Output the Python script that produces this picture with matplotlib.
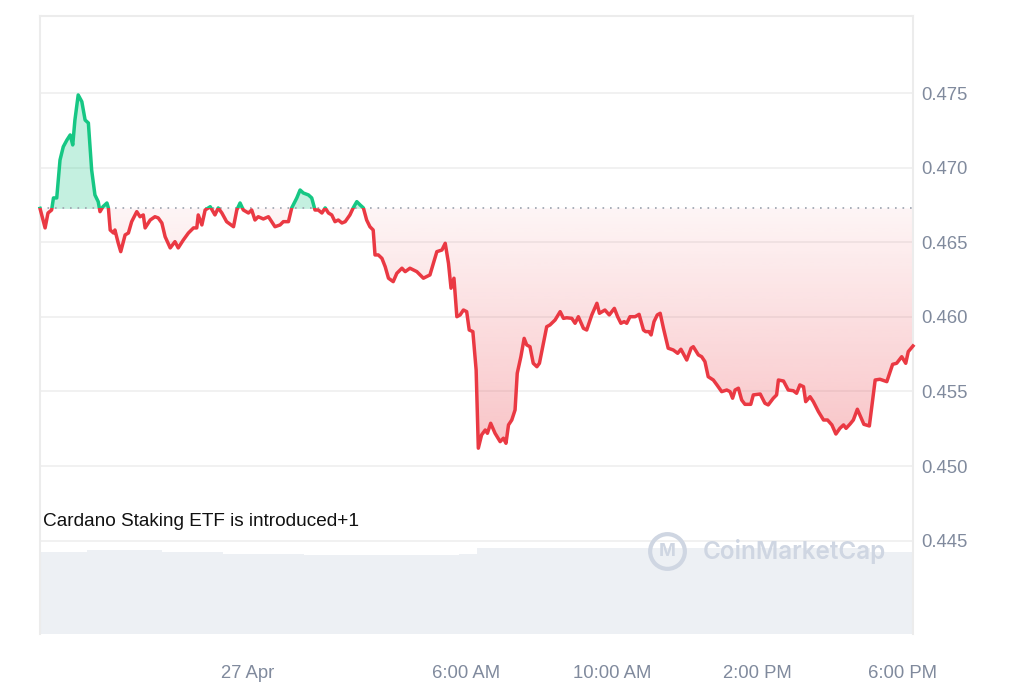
"""
ADA price chart (last 24h) in CoinMarketCap style
"""
import numpy as np
import matplotlib
matplotlib.use("Agg")
import matplotlib.pyplot as plt
from matplotlib.colors import to_rgb
from matplotlib.patches import PathPatch, Rectangle

# hours relative to 27 Apr 00:00
hours = [-5.72, -5.58, -5.50, -5.40, -5.35, -5.26, -5.17, -5.08, -4.98, -4.89,
         -4.82, -4.76, -4.67, -4.57, -4.48, -4.39, -4.30, -4.21, -4.12, -4.07,
         -3.99, -3.88, -3.84, -3.79, -3.70, -3.66, -3.57, -3.50, -3.38, -3.29,
         -3.20, -3.06, -2.97, -2.88, -2.83, -2.69, -2.56, -2.47, -2.37, -2.28,
         -2.14, -2.01, -1.92, -1.78, -1.64, -1.50, -1.41, -1.37, -1.27, -1.18,
         -1.04, -0.91, -0.82, -0.72, -0.59, -0.54, -0.40, -0.31, -0.22, -0.13,
         0.01, 0.10, 0.19, 0.28, 0.42, 0.56, 0.65, 0.74, 0.88, 0.97,
         1.11, 1.20, 1.34, 1.43, 1.52, 1.66, 1.75, 1.84, 1.93, 2.03,
         2.12, 2.21, 2.30, 2.39, 2.48, 2.58, 2.67, 2.80, 2.89, 2.99,
         3.08, 3.17, 3.26, 3.35, 3.44, 3.49, 3.58, 3.68, 3.77, 3.86,
         3.99, 4.09, 4.23, 4.32, 4.45, 4.64, 4.82, 5.00, 5.19, 5.33,
         5.42, 5.51, 5.58, 5.66, 5.74, 5.83, 5.92, 6.01, 6.08, 6.18,
         6.27, 6.33, 6.42, 6.52, 6.58, 6.67, 6.79, 6.93, 7.02, 7.09,
         7.16, 7.25, 7.34, 7.40, 7.50, 7.59, 7.66, 7.75, 7.84, 7.94,
         8.01, 8.12, 8.21, 8.30, 8.44, 8.58, 8.67, 8.76, 8.90, 8.99,
         9.08, 9.22, 9.31, 9.45, 9.59, 9.66, 9.81, 9.93, 10.07, 10.16,
         10.25, 10.34, 10.41, 10.50, 10.64, 10.75, 10.87, 10.93, 11.02, 11.08,
         11.16, 11.25, 11.33, 11.42, 11.55, 11.69, 11.81, 11.90, 12.06, 12.18,
         12.24, 12.38, 12.47, 12.56, 12.65, 12.79, 12.89, 13.02, 13.16, 13.25,
         13.32, 13.39, 13.48, 13.57, 13.66, 13.82, 13.89, 14.08, 14.21, 14.30,
         14.44, 14.53, 14.58, 14.72, 14.85, 14.99, 15.08, 15.17, 15.27, 15.33,
         15.45, 15.54, 15.68, 15.82, 15.93, 16.05, 16.16, 16.27, 16.37, 16.44,
         16.55, 16.64, 16.75, 16.84, 16.93, 17.08, 17.24, 17.37, 17.56, 17.72,
         17.83, 17.97, 18.08, 18.15, 18.25, 18.28]

prices = [0.46727, 0.46596, 0.46696, 0.46716, 0.46797, 0.46797, 0.47051, 0.47140, 0.47185, 0.47219,
          0.47152, 0.47319, 0.47487, 0.47442, 0.47319, 0.47299, 0.46984, 0.46817, 0.46772, 0.46705,
          0.46738, 0.46763, 0.46730, 0.46582, 0.46562, 0.46582, 0.46495, 0.46437, 0.46549, 0.46562,
          0.46638, 0.46705, 0.46671, 0.46683, 0.46596, 0.46649, 0.46671, 0.46663, 0.46629, 0.46537,
          0.46462, 0.46504, 0.46462, 0.46515, 0.46562, 0.46596, 0.46596, 0.46683, 0.46616, 0.46716,
          0.46738, 0.46683, 0.46730, 0.46696, 0.46638, 0.46629, 0.46604, 0.46716, 0.46763, 0.46716,
          0.46696, 0.46716, 0.46649, 0.46671, 0.46656, 0.46671, 0.46638, 0.46604, 0.46616, 0.46638,
          0.46638, 0.46730, 0.46797, 0.46850, 0.46830, 0.46817, 0.46797, 0.46716, 0.46716, 0.46696,
          0.46730, 0.46696, 0.46683, 0.46638, 0.46649, 0.46629, 0.46638, 0.46683, 0.46730, 0.46772,
          0.46750, 0.46730, 0.46649, 0.46604, 0.46582, 0.46415, 0.46415, 0.46392, 0.46336, 0.46259,
          0.46236, 0.46292, 0.46326, 0.46303, 0.46326, 0.46303, 0.46259, 0.46281, 0.46437, 0.46448,
          0.46493, 0.46359, 0.46192, 0.46259, 0.46001, 0.46013, 0.46046, 0.46035, 0.45912, 0.45901,
          0.45644, 0.45120, 0.45209, 0.45242, 0.45220, 0.45287, 0.45220, 0.45164, 0.45187, 0.45153,
          0.45276, 0.45309, 0.45376, 0.45622, 0.45733, 0.45856, 0.45812, 0.45800, 0.45689, 0.45666,
          0.45689, 0.45823, 0.45934, 0.45946, 0.45979, 0.46035, 0.45990, 0.45994, 0.45990, 0.45957,
          0.46001, 0.45923, 0.45912, 0.46013, 0.46091, 0.46024, 0.46046, 0.46013, 0.46057, 0.46001,
          0.45957, 0.45968, 0.45957, 0.46001, 0.46001, 0.46017, 0.45912, 0.45901, 0.45901, 0.45879,
          0.45968, 0.46013, 0.46024, 0.45923, 0.45790, 0.45778, 0.45756, 0.45783, 0.45711, 0.45790,
          0.45800, 0.45745, 0.45733, 0.45700, 0.45599, 0.45577, 0.45544, 0.45499, 0.45510, 0.45499,
          0.45455, 0.45510, 0.45522, 0.45443, 0.45414, 0.45414, 0.45477, 0.45483, 0.45421, 0.45410,
          0.45455, 0.45477, 0.45577, 0.45570, 0.45510, 0.45505, 0.45488, 0.45544, 0.45532, 0.45432,
          0.45465, 0.45432, 0.45365, 0.45309, 0.45309, 0.45276, 0.45215, 0.45253, 0.45276, 0.45253,
          0.45282, 0.45309, 0.45381, 0.45331, 0.45280, 0.45269, 0.45577, 0.45582, 0.45566, 0.45682,
          0.45689, 0.45733, 0.45689, 0.45767, 0.45796, 0.45805]

ref_price = 0.46727  # opening price (dotted line)

# volume blocks: start hour, end hour, volume (M)
vol_start = [-5.72, -4.43, -2.37, -0.70, 1.54, 5.81, 6.30, 17.10]
vol_end = [-4.43, -2.37, -0.70, 1.54, 5.81, 6.30, 17.10, 18.28]
vol_values = [82.3, 84.0, 82.3, 80.3, 78.7, 80.3, 85.7, 82.0]

tick_hours = [0, 6, 10, 14, 18]
tick_labels = ["27 Apr", "6:00 AM", "10:00 AM", "2:00 PM", "6:00 PM"]
ytick_vals = [0.445, 0.450, 0.455, 0.460, 0.465, 0.470, 0.475]

GREEN = "#16c784"
RED = "#ea3943"
GRAY_TXT = "#808a9d"
WM = "#cfd6e2"

h = np.array(hours)
p = np.array(prices)
xmin, xmax = h[0], h[-1]

fig = plt.figure(figsize=(10.24, 6.83), dpi=100)
rect = [40 / 1024, 1 - 634 / 683, 873 / 1024, 618 / 683]

# volume bars in the background
vax = fig.add_axes(rect, zorder=0)
vs = np.array(vol_start)
ve = np.array(vol_end)
vax.bar(vs, vol_values, width=ve - vs, align="edge", color="#edf0f4", edgecolor="none")
vax.set_xlim(xmin, xmax)
vax.set_ylim(0, max(vol_values) * 618 / 85.7)
vax.axis("off")

ax = fig.add_axes(rect, zorder=1)
ax.patch.set_visible(False)

# grid
for v in ytick_vals:
    ax.axhline(v, color="#efefef", lw=1.2, zorder=0)

# green fill above reference
ax.fill_between(h, ref_price, np.maximum(p, ref_price), color=GREEN, alpha=0.25,
                linewidth=0, zorder=2)

# red gradient fill below reference
poly = ax.fill_between(h, ref_price, np.minimum(p, ref_price), facecolor="none",
                       edgecolor="none")
clip = PathPatch(poly.get_paths()[0], transform=ax.transData, facecolor="none",
                 edgecolor="none")
ax.add_patch(clip)
grad = np.zeros((256, 1, 4))
grad[..., :3] = to_rgb(RED)
grad[..., 3] = np.linspace(0.30, 0.05, 256)[:, None]
im = ax.imshow(grad, extent=[xmin, xmax, p.min(), ref_price], origin="lower",
               aspect="auto", zorder=2, interpolation="bilinear")
im.set_clip_path(clip)

# reference line
ax.axhline(ref_price, color="#9aa1ad", lw=1.2, ls=(0, (1, 3.5)), zorder=3)

# price line, coloured by side of the reference
line_g, = ax.plot(h, p, color=GREEN, lw=2.5, zorder=4, solid_joinstyle="round")
line_r, = ax.plot(h, p, color=RED, lw=2.5, zorder=4, solid_joinstyle="round")
rg = Rectangle((xmin - 1, ref_price), xmax - xmin + 2, 1.0, transform=ax.transData)
rr = Rectangle((xmin - 1, ref_price - 1.0), xmax - xmin + 2, 1.0, transform=ax.transData)
line_g.set_clip_path(rg)
line_r.set_clip_path(rr)

ax.set_xlim(xmin, xmax)
ax.set_ylim(0.43875, 0.48016)

# axes styling
for s in ["top", "left", "right"]:
    ax.spines[s].set_color("#ececec")
    ax.spines[s].set_linewidth(1.5)
ax.spines["bottom"].set_visible(False)

ax.yaxis.tick_right()
ax.set_yticks(ytick_vals)
ax.set_yticklabels([f"{v:.3f}" for v in ytick_vals])
ax.set_xticks(tick_hours)
ax.set_xticklabels(tick_labels)
ax.tick_params(axis="y", length=0, pad=6, labelsize=13.3, labelcolor=GRAY_TXT)
ax.tick_params(axis="x", length=0, pad=22, labelsize=13.3, labelcolor=GRAY_TXT)
for lbl in ax.get_xticklabels() + ax.get_yticklabels():
    lbl.set_family("Liberation Sans")

# event annotation
ax.text(3 / 873, (634 - 522) / 618, "Cardano Staking ETF is introduced+1",
        transform=ax.transAxes, fontsize=13.7, family="Liberation Sans",
        color="#111111", va="center", ha="left", zorder=6)

# watermark
ax.plot([(667 - 40) / 873], [(634 - 551) / 618], marker="o", markersize=25,
        markerfacecolor="none", markeredgecolor=WM, markeredgewidth=3,
        transform=ax.transAxes, zorder=5)
ax.text((667 - 40) / 873, (634 - 552) / 618, "M", transform=ax.transAxes,
        fontsize=13, color=WM, ha="center", va="center", family="Inter",
        fontweight="bold", zorder=5)
ax.text((703 - 40) / 873, (634 - 552) / 618, "CoinMarketCap", transform=ax.transAxes,
        fontsize=17.5, color=WM, ha="left", va="center", family="Inter",
        fontweight="semibold", zorder=5)

fig.savefig("out.png", dpi=100)
